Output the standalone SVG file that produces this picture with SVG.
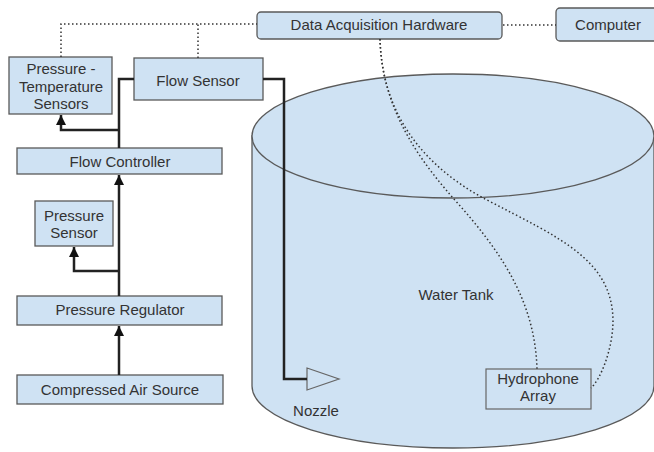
<svg xmlns="http://www.w3.org/2000/svg" width="654" height="452" viewBox="0 0 654 452">
<defs>
<style>
.box{fill:#cfe2f3;stroke:#595959;stroke-width:1.3}
.t{font-family:"Liberation Sans",Arial,sans-serif;font-size:15px;fill:#333;text-anchor:middle}
.flow{fill:none;stroke:#222;stroke-width:2.5}
.dot{fill:none;stroke:#333;stroke-width:1.5;stroke-dasharray:1.5 2.5}
.tank{fill:#cfe2f3;stroke:#5a5a5a;stroke-width:1.3}
</style>
<marker id="ah" markerUnits="userSpaceOnUse" markerWidth="10" markerHeight="10" refX="10" refY="5" orient="auto" viewBox="0 0 10 10">
<path d="M0,0 L10,5 L0,10 z" fill="#111"/>
</marker>
</defs>
<rect width="654" height="452" fill="#fff"/>
<g id="water-tank">
<path class="tank" d="M252,136 V386 A201,62 0 0 0 654,386 V136 Z"/>
<ellipse class="tank" cx="453" cy="136" rx="201" ry="62"/>
<text class="t" x="456" y="300">Water Tank</text>
</g>
<g id="daq">
<rect class="box" x="257" y="12" width="245" height="27" rx="4"/>
<text class="t" x="379" y="30">Data Acquisition Hardware</text>
</g>
<g id="computer">
<rect class="box" x="556" y="8" width="104" height="33" rx="4"/>
<text class="t" x="608" y="30">Computer</text>
</g>
<g id="pt-sensors">
<rect class="box" x="9" y="57" width="103" height="57"/>
<text class="t" x="61" y="74">Pressure -</text>
<text class="t" x="61" y="91.5">Temperature</text>
<text class="t" x="61" y="109">Sensors</text>
</g>
<g id="flow-sensor">
<rect class="box" x="134" y="58" width="129" height="42"/>
<text class="t" x="198" y="85.5">Flow Sensor</text>
</g>
<g id="flow-controller">
<rect class="box" x="17" y="148" width="205" height="26"/>
<text class="t" x="120" y="167">Flow Controller</text>
</g>
<g id="pressure-sensor">
<rect class="box" x="35" y="201" width="78" height="45"/>
<text class="t" x="74" y="221">Pressure</text>
<text class="t" x="74" y="238">Sensor</text>
</g>
<g id="pressure-regulator">
<rect class="box" x="17" y="296" width="205" height="29"/>
<text class="t" x="120" y="315">Pressure Regulator</text>
</g>
<g id="air-source">
<rect class="box" x="17" y="375" width="206" height="29"/>
<text class="t" x="120" y="395">Compressed Air Source</text>
</g>
<g id="nozzle">
<polygon points="307,368 339,379 307,390" fill="#cfe2f3" stroke="#666" stroke-width="1.2"/>
<text class="t" x="316" y="416">Nozzle</text>
</g>
<g id="hydrophone">
<rect x="486" y="369" width="105" height="40" fill="none" stroke="#666" stroke-width="1.2"/>
<text class="t" x="538" y="384">Hydrophone</text>
<text class="t" x="538" y="401">Array</text>
</g>
<g id="connectors">
<path class="flow" d="M119,375 V326" marker-end="url(#ah)"/>
<path class="flow" d="M119,296 V175" marker-end="url(#ah)"/>
<path class="flow" d="M119,271 H74 V247" marker-end="url(#ah)"/>
<path class="flow" d="M119,148 V79 H134"/>
<path class="flow" d="M119,130 H61 V115" marker-end="url(#ah)"/>
<path class="flow" d="M263,79 H284 V379 H307"/>
<path class="dot" d="M61,57 V24 H257"/>
<path class="dot" d="M198,58 V24"/>
<path class="dot" d="M503,25 H556"/>
<path class="dot" d="M380,39 C382,110 420,160 453,198 C500,250 535,300 537,369"/>
<path class="dot" d="M380,39 C382,120 430,170 487,200 C560,238 612,260 613,320 C613,350 600,380 591,388"/>
</g>
</svg>
